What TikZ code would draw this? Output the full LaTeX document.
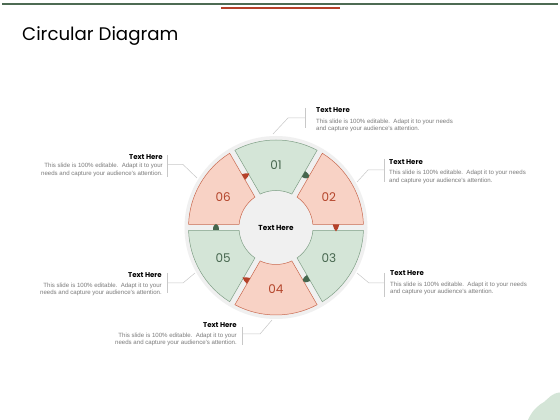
\documentclass[tikz,border=0pt]{standalone}
\usepackage{fontspec}
\setmainfont{Liberation Sans}
\newfontfamily\gothic{Poppins}
\usetikzlibrary{calc}
\definecolor{segG}{HTML}{D4E5D7}
\definecolor{segGb}{HTML}{7F9F86}
\definecolor{segR}{HTML}{F8D2C5}
\definecolor{segRb}{HTML}{C9694F}
\definecolor{numG}{HTML}{46664E}
\definecolor{numR}{HTML}{B4452B}
\definecolor{discC}{HTML}{F0F0F0}
\definecolor{lineC}{HTML}{C8C8C8}
\definecolor{barG}{HTML}{4D6B53}
\definecolor{barR}{HTML}{B5412A}
\definecolor{bodyC}{HTML}{7A7A7A}
\newcommand\mysegment[4]{%
  \pgfmathsetmacro\segA{#1+\dO}\pgfmathsetmacro\segB{#2-\dO}%
  \pgfmathsetmacro\segC{#1+\dI}\pgfmathsetmacro\segD{#2-\dI}%
  \draw[fill=#3,draw=#4,line width=0.5pt] ($(C)+(\segA:\Ro)$) arc[start angle=\segA,end angle=\segB,radius=\Ro]
    -- ($(C)+(\segD:\Ri)$) arc[start angle=\segD,end angle=\segC,radius=\Ri] -- cycle;}
\newcommand\dome[2]{% angle, colour
  \begin{scope}[shift={($(C)+(#1:60)$)},rotate=#1]
    \fill[#2] (-3.3,3) .. controls (-3.3,-5.5) and (3.3,-5.5) .. (3.3,3) -- cycle;
  \end{scope}}
\newcommand\pin[2]{%
  \begin{scope}[shift={($(C)+(#1:60)$)},rotate=#1]
    \fill[#2] (-3.3,3) .. controls (-3.3,-0.5) and (-1,-1.5) .. (0,-4) .. controls (1,-1.5) and (3.3,-0.5) .. (3.3,3) -- cycle;
  \end{scope}}
\begin{document}
\begin{tikzpicture}[x=1pt,y=1pt,
  conn/.style={draw=lineC,line width=0.5pt},
  numg/.style={font=\gothic\fontsize{12}{14}\selectfont,text=numG,inner sep=0pt},
  numr/.style={font=\gothic\fontsize{12}{14}\selectfont,text=numR,inner sep=0pt},
  ttl/.style={font=\gothic\bfseries\fontsize{7}{8}\selectfont,inner sep=0pt},
  bodyl/.style={font=\fontsize{6.1}{7.5}\selectfont,text=bodyC,inner sep=0pt,align=left},
  bodyr/.style={font=\fontsize{6.1}{7.5}\selectfont,text=bodyC,inner sep=0pt,align=right}]
\useasboundingbox[fill=white] (0,0) rectangle (560,420);
% top bars
\draw[barG,line width=2.5pt] (2,416) -- (558,416);
\fill[barR] (221,410.8) rectangle (340,413.3);
% title
\node[anchor=base west,font=\gothic\fontsize{18.2}{21}\selectfont,inner sep=0pt] (title) at (22,379) {Circular Diagram};
% corner blob
\fill[segG] (528,0) .. controls (532,9) and (537,14) .. (544,18) .. controls (549,22) and (552,27) .. (560,27.5) -- (560,0) -- cycle;
% disc
\coordinate (C) at (276,192.5);
\fill[discC] (C) circle (91.5);
\def\Ro{87.5}\def\Ri{37}
\pgfmathsetmacro\dO{asin(3/87.5)}
\pgfmathsetmacro\dI{asin(3/37)}
\mysegment{60}{120}{segG}{segGb}
\mysegment{0}{60}{segR}{segRb}
\mysegment{-60}{0}{segG}{segGb}
\mysegment{-120}{-60}{segR}{segRb}
\mysegment{180}{240}{segG}{segGb}
\mysegment{120}{180}{segR}{segRb}
% markers
\dome{60}{numG}
\pin{0}{barR}
\dome{-60}{numG}
\pin{-120}{barR}
\dome{180}{numG}
\pin{120}{barR}
% numbers
\node[numg] (n1) at ($(C)+(90:62)$) {01};
\node[numr] (n2) at ($(C)+(30:61)$) {02};
\node[numg] (n3) at ($(C)+(-30:61)$) {03};
\node[numr] (n4) at ($(C)+(-90:62)$) {04};
\node[numg] (n5) at ($(C)+(-150:61)$) {05};
\node[numr] (n6) at ($(C)+(150:61)$) {06};
\node[ttl,font=\gothic\bfseries\fontsize{7.3}{8}\selectfont] (center) at (C) {Text Here};
% callout 01 (top)
\coordinate (e1) at (273,286); \coordinate (k1) at (288,302); \coordinate (m1) at (305.5,302);
\coordinate (t1) at (305.5,312); \coordinate (b1) at (305.5,292);
\draw[conn] (e1) -- (k1) -- (m1); \draw[conn] (t1) -- (b1);
\node[ttl,anchor=west] (h1) at (316,310) {Text Here};
\node[bodyl,anchor=west] (p1) at (316,294.8) {This slide is 100\% editable.\ \ Adapt it to your needs\\and capture your audience's attention.};
% callout 02
\coordinate (e2) at (357,238); \coordinate (k2) at (368,250); \coordinate (m2) at (384,250);
\coordinate (t2) at (384,261); \coordinate (b2) at (384,238);
\draw[conn] (e2) -- (k2) -- (m2); \draw[conn] (t2) -- (b2);
\node[ttl,anchor=west] (h2) at (389,257.5) {Text Here};
\node[bodyl,anchor=west] (p2) at (389,243) {This slide is 100\% editable.\ \ Adapt it to your needs\\and capture your audience's attention.};
% callout 03
\coordinate (e3) at (357,147); \coordinate (k3) at (369,137); \coordinate (m3) at (384,137);
\coordinate (t3) at (384,147); \coordinate (b3) at (384,123);
\draw[conn] (e3) -- (k3) -- (m3); \draw[conn] (t3) -- (b3);
\node[ttl,anchor=west] (h3) at (390,147) {Text Here};
\node[bodyl,anchor=west] (p3) at (390,131.5) {This slide is 100\% editable.\ \ Adapt it to your needs\\and capture your audience's attention.};
% callout 04
\coordinate (e4) at (272,100); \coordinate (k4) at (260,86); \coordinate (m4) at (242,86);
\coordinate (t4) at (242,93); \coordinate (b4) at (242,75);
\draw[conn] (e4) -- (k4) -- (m4); \draw[conn] (t4) -- (b4);
\node[ttl,anchor=east] (h4) at (237,95) {Text Here};
\node[bodyr,anchor=east] (p4) at (237,80.5) {This slide is 100\% editable.\ \ Adapt it to your\\needs and capture your audience's attention.};
% callout 05
\coordinate (e5) at (195,147); \coordinate (k5) at (183,137); \coordinate (m5) at (167,137);
\coordinate (t5) at (167,147); \coordinate (b5) at (167,127);
\draw[conn] (e5) -- (k5) -- (m5); \draw[conn] (t5) -- (b5);
\node[ttl,anchor=east] (h5) at (162,145) {Text Here};
\node[bodyr,anchor=east] (p5) at (162,130.5) {This slide is 100\% editable.\ \ Adapt it to your\\needs and capture your audience's attention.};
% callout 06
\coordinate (e6) at (197,242); \coordinate (k6) at (183,255.5); \coordinate (m6) at (167,255.5);
\coordinate (t6) at (167,265); \coordinate (b6) at (167,243);
\draw[conn] (e6) -- (k6) -- (m6); \draw[conn] (t6) -- (b6);
\node[ttl,anchor=east] (h6) at (163,263) {Text Here};
\node[bodyr,anchor=east] (p6) at (163,250) {This slide is 100\% editable.\ \ Adapt it to your\\needs and capture your audience's attention.};
\end{tikzpicture}
\end{document}
